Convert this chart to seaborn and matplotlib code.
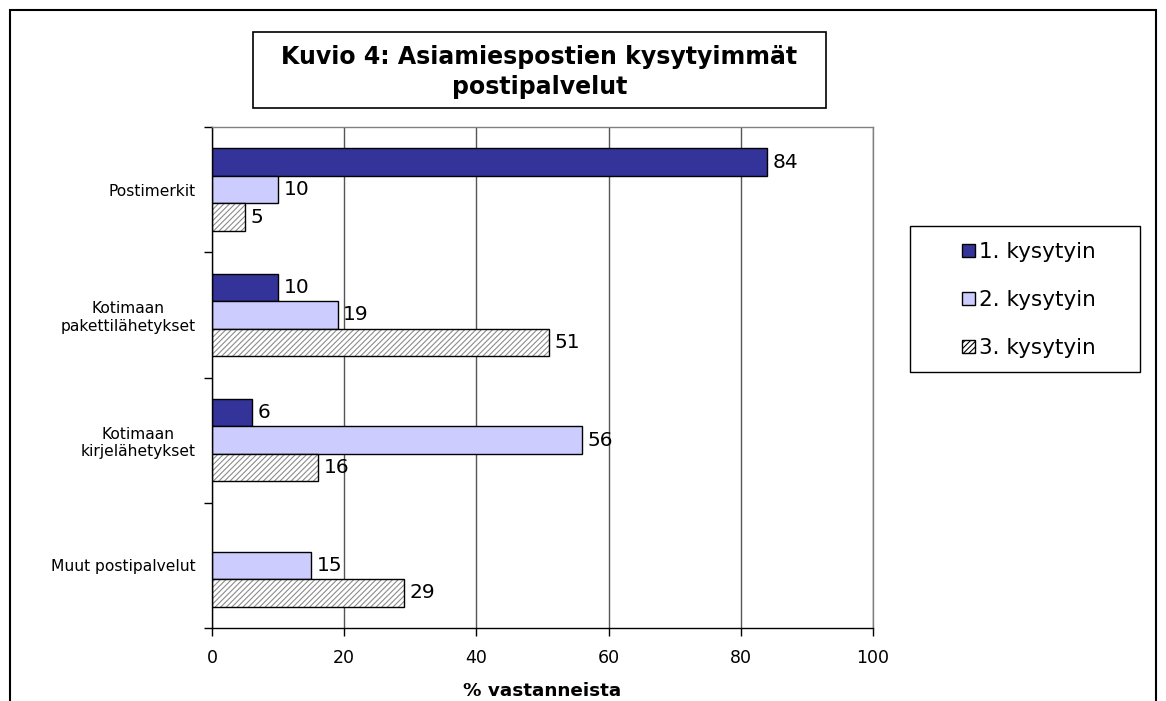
import numpy as np
import pandas as pd
import matplotlib
matplotlib.use("Agg")
import matplotlib.pyplot as plt
from matplotlib.patches import Patch, Rectangle
import seaborn as sns

# Data
categories = ["Postimerkit", "Kotimaan\npakettilähetykset",
              "Kotimaan\nkirjelähetykset", "Muut postipalvelut"]
series = ["1. kysytyin", "2. kysytyin", "3. kysytyin"]
first = [84, 10, 6, np.nan]
second = [10, 19, 56, 15]
third = [5, 51, 16, 29]
x_ticks = [0, 20, 40, 60, 80, 100]

df = pd.DataFrame({
    "kategoria": categories * 3,
    "sarja": np.repeat(series, len(categories)),
    "arvo": first + second + third,
})

sns.set_theme(style="white")
plt.rcParams["font.family"] = ["DejaVu Sans"]
plt.rcParams["hatch.linewidth"] = 0.8
for k in ["text.color", "axes.labelcolor", "xtick.color", "ytick.color"]:
    plt.rcParams[k] = "black"

colors = {"1. kysytyin": "#333399", "2. kysytyin": "#CCCCFF", "3. kysytyin": "white"}

W, H = 1166, 701
fig = plt.figure(figsize=(W / 100, H / 100), dpi=100)
ax = fig.add_axes([212 / W, 1 - 628 / H, (873 - 212) / W, (628 - 127) / H])

sns.barplot(data=df, y="kategoria", x="arvo", hue="sarja", order=categories,
            hue_order=series, palette=colors, orient="h", width=0.66,
            edgecolor="black", linewidth=1, saturation=1, legend=False, ax=ax)

# hatched third series: gray hatch, black outline drawn on top
for p in ax.containers[2].patches:
    p.set_hatch("//////")
    p.set_edgecolor("#8c8c8c")
    p.set_linewidth(0)
    ax.add_patch(Rectangle(p.get_xy(), p.get_width(), p.get_height(),
                           fill=False, edgecolor="black", linewidth=1, zorder=p.get_zorder() + 0.1))

for cont in ax.containers:
    labels = ["" if not np.isfinite(v) else f"{v:g}" for v in cont.datavalues]
    ax.bar_label(cont, labels=labels, padding=4, fontsize=14.5)

ax.set_xlim(0, 100)
ax.set_ylim(3.5, -0.5)
ax.set_xticks(x_ticks)
ax.set_xticklabels([str(t) for t in x_ticks], fontsize=12.5)
ax.set_yticks(range(len(categories)))
ax.set_yticklabels(categories, fontsize=11.2)
for lab in ax.get_yticklabels():
    lab.set_multialignment("center")
ax.set_yticks([-0.5, 0.5, 1.5, 2.5, 3.5], minor=True)
ax.tick_params(axis="y", which="major", length=0, pad=12)
ax.tick_params(axis="y", which="minor", length=6, width=1, color="black", left=True)
ax.tick_params(axis="x", length=6, width=1, color="black", bottom=True, pad=9)
ax.set_ylabel("")
ax.set_xlabel("% vastanneista", fontsize=13.2, fontweight="bold", labelpad=11)

ax.grid(axis="x", color="#555555", linewidth=1)
ax.set_axisbelow(True)
for side in ["left", "bottom"]:
    ax.spines[side].set_color("black")
    ax.spines[side].set_linewidth(1)
for side in ["top", "right"]:
    ax.spines[side].set_color("#808080")
    ax.spines[side].set_linewidth(1)

# outer frame
fig.patches.append(Rectangle((10 / W, -0.05), (1156 - 10) / W, 1.05 - 10 / H,
                             transform=fig.transFigure, fill=False,
                             edgecolor="black", linewidth=1.5))

# title box
fig.patches.append(Rectangle((253 / W, 1 - 108 / H), (826 - 253) / W, (108 - 32) / H,
                             transform=fig.transFigure, fill=False,
                             edgecolor="black", linewidth=1.2))
fig.text(539.5 / W, 1 - 72 / H, "Kuvio 4: Asiamiespostien kysytyimmät\npostipalvelut",
         ha="center", va="center", fontsize=17, fontweight="bold", linespacing=1.35)

# legend box
fig.patches.append(Rectangle((910 / W, 1 - 372 / H), (1140 - 910) / W, (372 - 226) / H,
                             transform=fig.transFigure, fill=False,
                             edgecolor="black", linewidth=1))
handles = [Patch(facecolor=colors[s], edgecolor="black", linewidth=1,
                 hatch="//////" if s == "3. kysytyin" else None) for s in series]
fig.legend(handles, series, loc="center", bbox_to_anchor=(1029 / W, 1 - 300 / H),
           frameon=False, fontsize=15.5, handlelength=0.6, handleheight=0.6,
           handletextpad=0.2, labelspacing=1.3)

fig.savefig("out.png", dpi=100)
